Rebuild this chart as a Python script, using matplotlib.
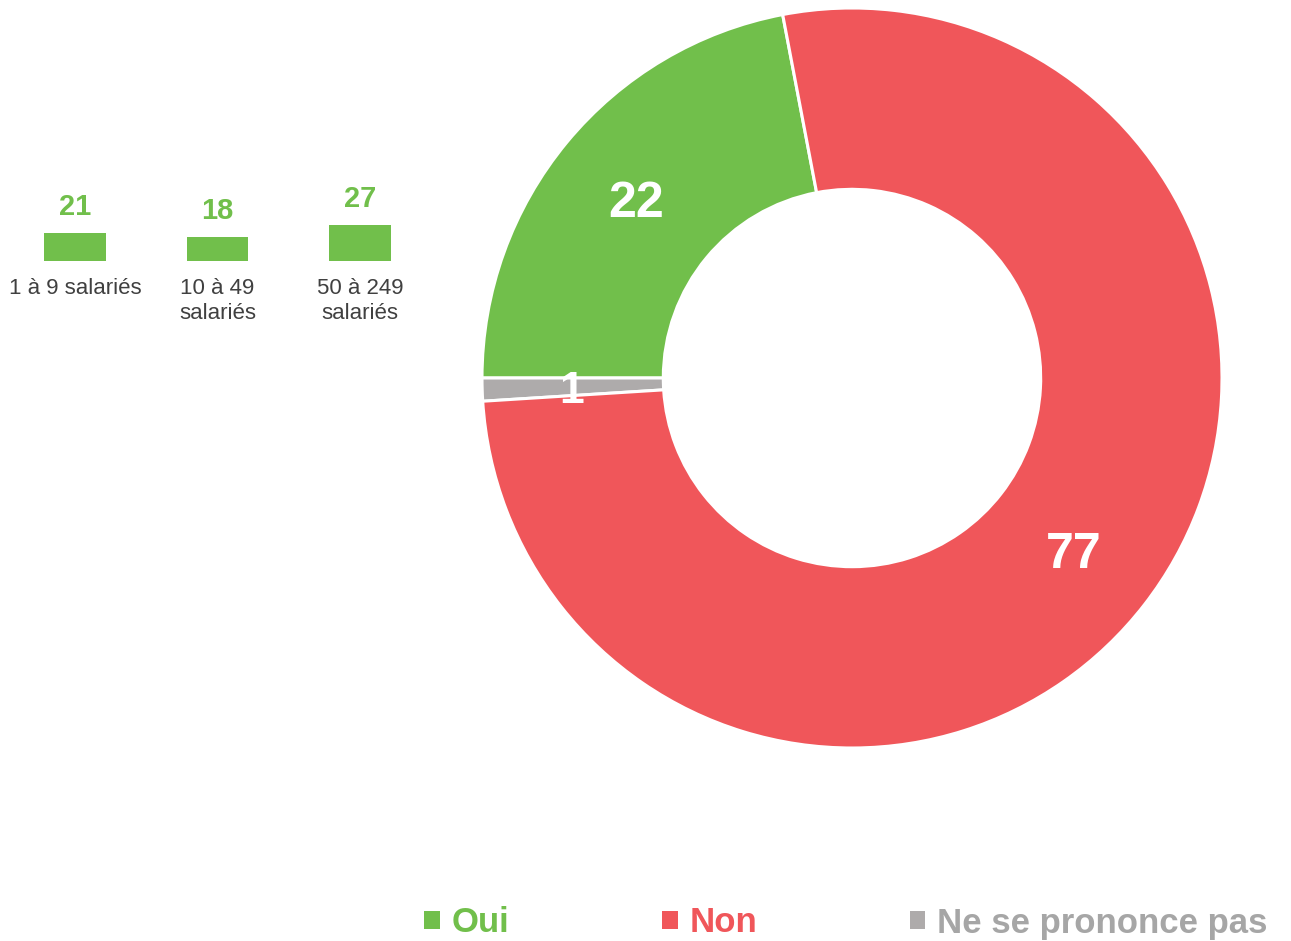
import matplotlib.pyplot as plt
from matplotlib.patches import Patch

# Donnees
reponses = ['Oui', 'Non', 'Ne se prononce pas']
valeurs = [22, 77, 1]
couleurs = ['#71BF4B', '#F0565A', '#AEABAB']
couleurs_legende = ['#71BF4B', '#F0565A', '#A6A6A6']
ordre_anneau = [0, 2, 1]  # ordre de dessin dans l'anneau

tailles = ['1 à 9 salariés', '10 à 49\nsalariés', '50 à 249\nsalariés']
oui_par_taille = [21, 18, 27]

plt.rcParams['font.family'] = ['Liberation Sans', 'DejaVu Sans']

fig = plt.figure(figsize=(12.91, 9.41), dpi=100)

# Donut
ax = fig.add_axes([482 / 1291, 1 - 748 / 941, 740 / 1291, 740 / 941])
wedges, _, autotexts = ax.pie([valeurs[i] for i in ordre_anneau],
                              colors=[couleurs[i] for i in ordre_anneau],
                              startangle=100.8, counterclock=True, radius=1,
                              autopct=lambda p: '%d' % round(p),
                              pctdistance=0.757,
                              wedgeprops=dict(width=0.49, edgecolor='white', linewidth=2.2))
for t in autotexts:
    t.set_color('white')
    t.set_fontsize(36)
    t.set_fontweight('bold')
    t.set_va('center_baseline')
autotexts[1].set_fontsize(32)
ax.set_xlim(-1, 1)
ax.set_ylim(-1, 1)
ax.set_aspect('equal')
ax.axis('off')

# Petit graphique par taille d'entreprise
ax2 = fig.add_axes([3.75 / 1291, 1 - 261 / 941, 427.5 / 1291, 39.6 / 941])
x = range(len(tailles))
barres = ax2.bar(x, oui_par_taille, width=0.435, color='#71BF4B')
ax2.set_xlim(-0.5, 2.5)
ax2.set_ylim(0, 30)
ax2.axis('off')
for xi, v in zip(x, oui_par_taille):
    ax2.annotate(str(v), (xi, v), xytext=(0, 9), textcoords='offset points',
                 ha='center', va='bottom', fontsize=21, fontweight='bold',
                 color='#71BF4B', annotation_clip=False)
    ax2.annotate(tailles[xi], (xi, 0), xytext=(0, -12), textcoords='offset points',
                 ha='center', va='top', fontsize=16, color='#404040',
                 linespacing=1.3, annotation_clip=False)

# Legende
poignees = [Patch(facecolor=c) for c in couleurs]
leg = fig.legend(poignees, reponses, loc='center', bbox_to_anchor=(846 / 1291, 1 - 923 / 941),
                 ncol=3, frameon=False, handlelength=0.45, handleheight=0.45,
                 handletextpad=0.35, columnspacing=4.38,
                 prop={'weight': 'bold', 'size': 25})
for t, c in zip(leg.get_texts(), couleurs_legende):
    t.set_color(c)

fig.savefig('out.png', dpi=100)
